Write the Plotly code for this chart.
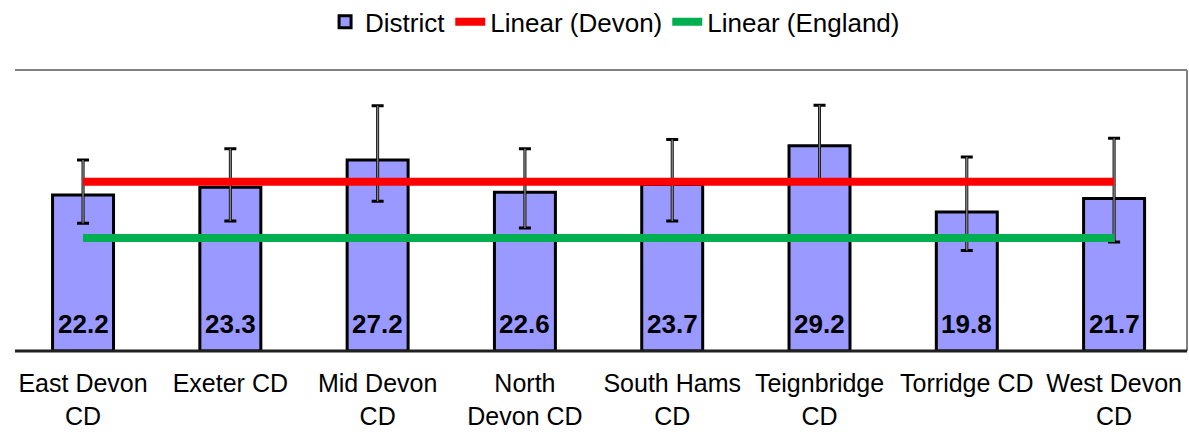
import plotly.graph_objects as go

categories = ["East Devon<br>CD", "Exeter CD", "Mid Devon<br>CD", "North<br>Devon CD",
              "South Hams<br>CD", "Teignbridge<br>CD", "Torridge CD", "West Devon<br>CD"]
district = [22.2, 23.3, 27.2, 22.6, 23.7, 29.2, 19.8, 21.7]
ci_upper = [27.2, 28.8, 34.9, 28.8, 30.1, 35.0, 27.6, 30.3]
ci_lower = [18.2, 18.5, 21.3, 17.5, 18.5, 24.3, 14.3, 15.5]
devon_rate = 24.1
england_rate = 16.1

xs = list(range(len(categories)))
err_plus = [u - v for u, v in zip(ci_upper, district)]
err_minus = [v - l for v, l in zip(district, ci_lower)]

FONT = "Liberation Sans, Arial, sans-serif"

fig = go.Figure()
fig.add_trace(go.Bar(
    x=xs, y=district, name="District", width=0.414,
    marker=dict(color="#9999FF", line=dict(color="black", width=3)),
))
# error bars: black base with caps, gray stem on top
fig.add_trace(go.Scatter(
    x=xs, y=district, mode="markers", marker=dict(size=1, opacity=0),
    showlegend=False, hoverinfo="skip",
    error_y=dict(type="data", symmetric=False, array=err_plus, arrayminus=err_minus,
                 color="black", thickness=3, width=6),
))
fig.add_trace(go.Scatter(
    x=xs, y=district, mode="markers", marker=dict(size=1, opacity=0),
    showlegend=False, hoverinfo="skip",
    error_y=dict(type="data", symmetric=False, array=err_plus, arrayminus=err_minus,
                 color="#808080", thickness=1.5, width=0),
))
fig.add_trace(go.Scatter(
    x=[xs[0], xs[-1]], y=[devon_rate, devon_rate], mode="lines", name="Linear (Devon)",
    line=dict(color="#FF0000", width=8),
))
fig.add_trace(go.Scatter(
    x=[xs[0], xs[-1]], y=[england_rate, england_rate], mode="lines", name="Linear (England)",
    line=dict(color="#00B050", width=8),
))

annotations = [
    dict(x=x, y=0, xref="x", yref="y", text=f"<b>{v:.1f}</b>", showarrow=False,
         yanchor="bottom", yshift=10,
         font=dict(family=FONT, size=26, color="black"))
    for x, v in zip(xs, district)
]

fig.update_layout(
    width=1189, height=432,
    margin=dict(l=15, r=2, t=70, b=81, autoexpand=False),
    paper_bgcolor="white", plot_bgcolor="white",
    font=dict(family=FONT, size=25, color="black"),
    showlegend=True,
    legend=dict(orientation="h", x=0.512, xanchor="center",
                y=1.255, yanchor="top", yref="paper",
                font=dict(size=26, family=FONT), traceorder="normal",
                bgcolor="rgba(0,0,0,0)"),
    xaxis=dict(range=[-0.462, 7.495], tickmode="array", tickvals=xs, ticktext=categories,
               showgrid=False, zeroline=False, showline=False, ticks="",
               automargin=False,
               ticklabelstandoff=15, tickfont=dict(size=25, family=FONT, color="black")),
    yaxis=dict(range=[0, 40], showgrid=False, zeroline=False, showline=False,
               showticklabels=False, ticks="", automargin=False),
    annotations=annotations,
    shapes=[
        dict(type="line", xref="paper", yref="paper", x0=0, x1=1, y0=1, y1=1,
             line=dict(color="#808080", width=2)),
        dict(type="line", xref="paper", yref="paper", x0=1, x1=1, y0=0, y1=1,
             line=dict(color="#808080", width=2)),
        dict(type="line", xref="paper", yref="paper", x0=0, x1=1, y0=0, y1=0,
             line=dict(color="#202020", width=3), layer="above"),
    ],
)

fig.write_html("out.html", config={"displayModeBar": False},
               post_script="document.body.style.margin='0';")
